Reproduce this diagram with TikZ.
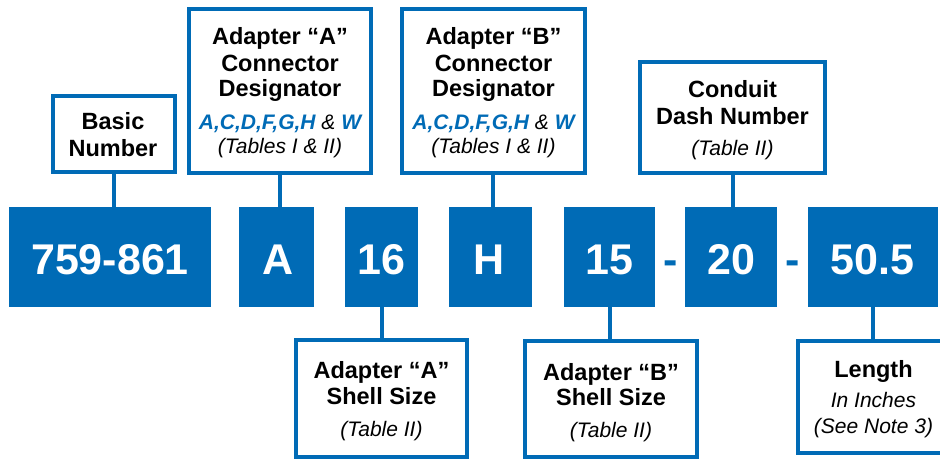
\documentclass[tikz,border=0pt]{standalone}
\usepackage{fontspec}
\setmainfont{Liberation Sans}
\definecolor{myblue}{RGB}{0,107,182}
\begin{document}
\begin{tikzpicture}[x=1pt,y=-1pt,
  infobox/.style={draw=myblue,line width=4pt,fill=white,inner sep=0pt,rectangle},
  codebox/.style={fill=myblue,inner sep=0pt,outer sep=0pt,rectangle},
  codetxt/.style={anchor=base,inner sep=0pt,text=white,font=\fontsize{43}{43}\selectfont\bfseries},
  dashtxt/.style={anchor=base,inner sep=0pt,text=myblue,font=\fontsize{43}{43}\selectfont\bfseries},
  headtxt/.style={anchor=base,inner sep=0pt,font=\fontsize{23.5}{25}\selectfont\bfseries},
  subtxt/.style={anchor=base,inner sep=0pt,font=\fontsize{21}{22}\selectfont\itshape},
  link/.style={draw=myblue,line width=4pt}]
\useasboundingbox (0,0) rectangle (940,460);
% code boxes
\node[codebox,minimum width=202pt,minimum height=100pt] (b1) at (110,257) {};
\node[codebox,minimum width=75pt,minimum height=100pt] (bA) at (276.5,257) {};
\node[codebox,minimum width=73pt,minimum height=100pt] (b16) at (381.5,257) {};
\node[codebox,minimum width=83pt,minimum height=100pt] (bH) at (490.5,257) {};
\node[codebox,minimum width=91pt,minimum height=100pt] (b15) at (609.5,257) {};
\node[codebox,minimum width=92pt,minimum height=100pt] (b20) at (731,257) {};
\node[codebox,minimum width=130pt,minimum height=100pt] (b50) at (872.5,257) {};
\node[codetxt] (t1) at (110,274) {759-861};
\node[codetxt] (tA) at (278.5,274) {A};
\node[codetxt] (t16) at (381.5,274) {16};
\node[codetxt] (tH) at (489.5,274) {H};
\node[codetxt] (t15) at (609.5,274) {15};
\node[codetxt] (t20) at (731,274) {20};
\node[codetxt] (t50) at (872.5,274) {50.5};
\node[dashtxt] (d1) at (670.5,274) {-};
\node[dashtxt] (d2) at (792.5,274) {-};
% info boxes
\node[infobox,minimum width=122pt,minimum height=76pt] (basic) at (113.5,134) {};
\node[infobox,minimum width=182pt,minimum height=164pt] (adA) at (279.5,91) {};
\node[infobox,minimum width=183pt,minimum height=164pt] (adB) at (493,91) {};
\node[infobox,minimum width=185pt,minimum height=111pt] (cond) at (732.5,117.5) {};
\node[infobox,minimum width=171pt,minimum height=117pt] (shA) at (381.5,398.5) {};
\node[infobox,minimum width=172pt,minimum height=116pt] (shB) at (611,399) {};
\node[infobox,minimum width=144pt,minimum height=112pt] (len) at (870,396.5) {};
% connectors
\draw[link] (basic.south) -- (basic.south |- b1.north);
\draw[link] (adA.south) -- (adA.south |- bA.north);
\draw[link] (adB.south) -- (adB.south |- bH.north);
\draw[link] (cond.south) -- (cond.south |- b20.north);
\draw[link] (b16.south) -- (b16.south |- shA.north);
\draw[link] (b15.south) -- (b15.south |- shB.north);
\draw[link] (b50.south) -- (b50.south |- len.north);
% texts: basic
\node[headtxt] (basic1) at (113,129) {Basic};
\node[headtxt] (basic2) at (113,156) {Number};
% adapter A
\node[headtxt] (adA1) at (280,45) {Adapter “A”};
\node[headtxt] (adA2) at (280,71) {Connector};
\node[headtxt] (adA3) at (280,96) {Designator};
\node[subtxt] (adA4) at (280,129) {{\bfseries\color{myblue}A,C,D,F,G,H} \& {\bfseries\color{myblue}W}};
\node[subtxt] (adA5) at (280,153) {(Tables I \& II)};
% adapter B
\node[headtxt] (adB1) at (493.5,45) {Adapter “B”};
\node[headtxt] (adB2) at (493.5,71) {Connector};
\node[headtxt] (adB3) at (493.5,96) {Designator};
\node[subtxt] (adB4) at (493.5,129) {{\bfseries\color{myblue}A,C,D,F,G,H} \& {\bfseries\color{myblue}W}};
\node[subtxt] (adB5) at (493.5,153) {(Tables I \& II)};
% conduit
\node[headtxt] (cond1) at (732.5,98) {Conduit};
\node[headtxt] (cond2) at (732.5,124) {Dash Number};
\node[subtxt] (cond3) at (732.5,155) {(Table II)};
% shell A
\node[headtxt] (shA1) at (381.5,378) {Adapter “A”};
\node[headtxt] (shA2) at (381.5,404) {Shell Size};
\node[subtxt] (shA3) at (381.5,436) {(Table II)};
% shell B
\node[headtxt] (shB1) at (611,380) {Adapter “B”};
\node[headtxt] (shB2) at (611,405) {Shell Size};
\node[subtxt] (shB3) at (611,437) {(Table II)};
% length
\node[headtxt] (len1) at (873.5,377) {Length};
\node[subtxt] (len2) at (873.5,407) {In Inches};
\node[subtxt] (len3) at (873.5,433) {(See Note 3)};
\end{tikzpicture}
\end{document}
